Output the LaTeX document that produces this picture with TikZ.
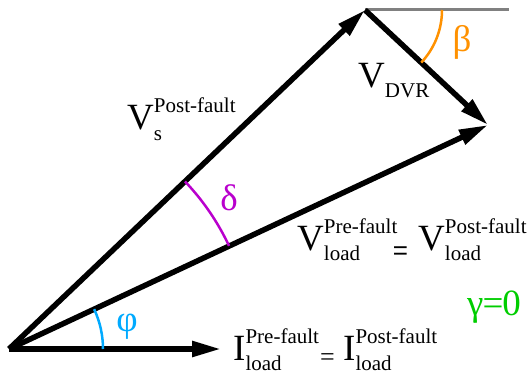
\documentclass[tikz,border=0pt]{standalone}
\usepackage{fontspec}
\setmainfont{Liberation Serif}
\newfontfamily\timesfont{Liberation Serif}
\newfontfamily\eqsans{Liberation Sans}
\usetikzlibrary{arrows.meta,calc}
\definecolor{betacol}{RGB}{255,145,0}
\definecolor{deltacol}{RGB}{185,0,205}
\definecolor{phicol}{RGB}{0,170,255}
\definecolor{gammacol}{RGB}{0,205,0}
\definecolor{refline}{RGB}{128,128,128}
\newcommand{\scr}{\fontsize{21}{21}\selectfont}
\newcommand{\phasor}[3]{#1\rlap{\raisebox{17pt}{\scr #2}}\raisebox{-10pt}{\scr #3}}
\begin{document}
\begin{tikzpicture}[x=1pt,y=-1pt,
  vec/.style={line width=5.5pt,-{Triangle[length=29pt,width=15pt]}},
  anglearc/.style={line width=2.5pt},
  lbl/.style={inner sep=0pt,font=\timesfont\fontsize{37}{40}\selectfont},
  eqsign/.style={inner sep=0pt,font=\timesfont\fontsize{26}{28}\selectfont}]
\useasboundingbox (0,0) rectangle (529,374);
\coordinate (O) at (9,349);
\coordinate (S) at (365,10);
\coordinate (L) at (488,125);
\coordinate (I) at (221,349);
\coordinate (H) at (509,10);
% reference line
\draw[refline,line width=3pt] (S) -- (H);
% phasors
\draw[vec] (O) -- (S);
\draw[vec] (O) -- (L);
\draw[vec] (O) -- (I);
\draw[vec] (S) -- (L);
% angle arcs
\draw[anglearc,betacol] ($(S)+(77,0)$) arc[start angle=0,end angle=43.1,radius=77];
\draw[anglearc,deltacol] ($(O)+(-43.6:243)$) arc[start angle=-43.6,end angle=-25.1,radius=243];
\draw[anglearc,phicol] ($(O)+(94,0)$) arc[start angle=0,end angle=-25.1,radius=94];
% labels
\node[lbl,anchor=base west] (vs) at (127,130) {\phasor{V}{Post-fault}{s}};
\node[lbl,anchor=base west] (vdvr) at (358,88) {V\raisebox{-10pt}{\scr DVR}};
\node[lbl,anchor=base west] (vpre) at (297,250) {\phasor{V}{Pre-fault}{load}};
\node[inner sep=0pt,font=\eqsans\fontsize{26}{28}\selectfont] (eq1) at (400.5,253.5) {=};
\node[lbl,anchor=base west] (vpost) at (418,250) {\phasor{V}{Post-fault}{load}};
\node[lbl,anchor=base west] (ipre) at (233,360) {\phasor{I}{Pre-fault}{load}};
\node[eqsign] (eq2) at (327.5,360) {=};
\node[lbl,anchor=base west] (ipost) at (343,360) {\phasor{I}{Post-fault}{load}};
\node[lbl,betacol] (beta) at (462,42) {β};
\node[lbl,deltacol] (delta) at (229,198) {δ};
\node[lbl,phicol] (phi) at (127,327) {φ};
\node[lbl,gammacol,anchor=base west] (gamma) at (467,315) {γ\kern-1pt=\kern-1pt0};
\end{tikzpicture}
\end{document}
